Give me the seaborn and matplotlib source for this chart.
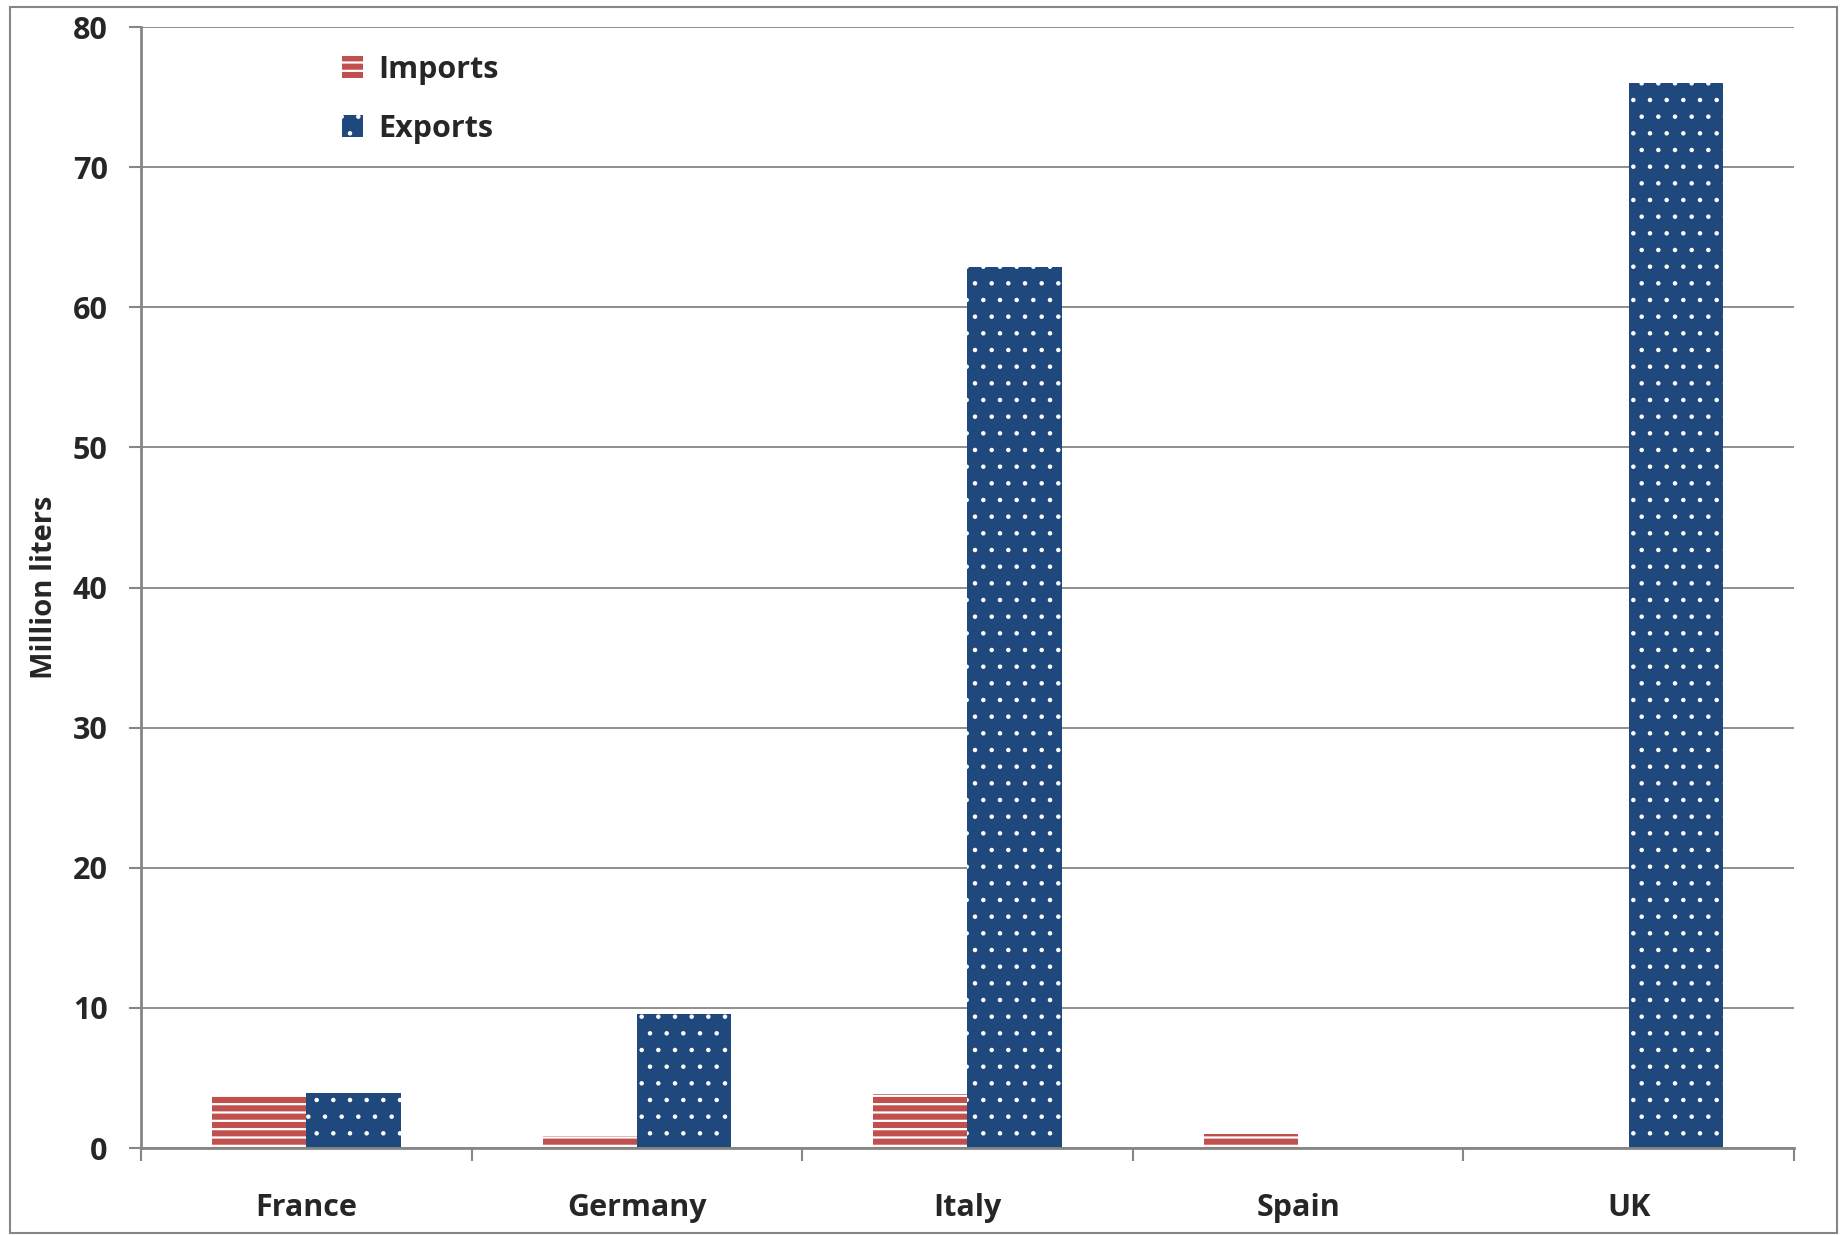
import matplotlib
matplotlib.use("Agg")
import matplotlib.pyplot as plt
from matplotlib.patches import Rectangle, Patch
import pandas as pd
import seaborn as sns

countries = ["France", "Germany", "Italy", "Spain", "UK"]
imports = [3.7, 0.85, 3.85, 1.0, 0.0]
exports = [3.95, 9.55, 62.9, 0.0, 76.0]
series = ["Imports", "Exports"]
colors = ["#C0504D", "#1F497D"]
hatches = ["--", "."]
hatch_lw = [1.6, 0.8]

df = pd.DataFrame({
    "country": countries * 2,
    "value": imports + exports,
    "flow": ["Imports"] * len(countries) + ["Exports"] * len(countries),
})

sns.set_style("white")
plt.rcParams["font.family"] = ["Open Sans", "DejaVu Sans"]
plt.rcParams["font.weight"] = "bold"
plt.rcParams["hatch.linewidth"] = 1.6

fig = plt.figure(figsize=(18.43, 12.35), dpi=100)
ax = fig.add_axes([0.0765, 0.0704, 0.8969, 0.9077])

sns.barplot(data=df, x="country", y="value", hue="flow", order=countries,
            hue_order=series, palette=colors, width=0.57, dodge=True,
            saturation=1, legend=False, ax=ax)

# hatch each series: white hatch, no visible edge
n = len(countries)
for i, bar in enumerate(ax.patches[:2 * n]):
    k = i // n
    bar.set_hatch(hatches[k])
    bar.set_edgecolor("white")
    bar.set_linewidth(0)
    if hasattr(bar, "set_hatch_linewidth"):
        bar.set_hatch_linewidth(hatch_lw[k])
    else:
        bar._hatch_linewidth = hatch_lw[k]

ax.set_ylim(0, 80)
ax.set_xlim(-0.5, len(countries) - 0.5)
ax.set_yticks(range(0, 81, 10))
ax.yaxis.grid(True, color="#868686", linewidth=1.3)
ax.set_axisbelow(True)

ax.set_xticks(range(len(countries)))
ax.set_xticklabels(countries)
ax.set_xticks([i - 0.5 for i in range(len(countries) + 1)], minor=True)
ax.tick_params(axis="x", which="major", length=0, pad=32, labelsize=22)
ax.tick_params(axis="x", which="minor", length=9, width=1.5, color="#868686",
               direction="out", bottom=True)
ax.tick_params(axis="y", length=9, width=1.5, color="#868686", direction="out",
               left=True, pad=15, labelsize=22)

for side in ["top", "right"]:
    ax.spines[side].set_visible(False)
for side in ["left", "bottom"]:
    ax.spines[side].set_color("#868686")
    ax.spines[side].set_linewidth(2)

ax.set_xlabel("")
ax.set_ylabel("Million liters", fontsize=21, fontweight="bold", labelpad=10)

handles = [Patch(facecolor=c, edgecolor="white", hatch=h, linewidth=0)
           for c, h in zip(colors, hatches)]
leg = ax.legend(handles, series, loc="upper left", bbox_to_anchor=(0.105, 1.0),
                frameon=False, fontsize=22, handlelength=0.7, handleheight=0.7,
                handletextpad=0.5, labelspacing=0.95)
for h, lw in zip(leg.legend_handles, hatch_lw):
    if hasattr(h, "set_hatch_linewidth"):
        h.set_hatch_linewidth(lw)

fig.patches.append(Rectangle((10 / 1843, 2 / 1235), 1827 / 1843, 1226 / 1235,
                             transform=fig.transFigure, fill=False,
                             edgecolor="#868686", linewidth=1.5))

fig.savefig("out.png", dpi=100)
